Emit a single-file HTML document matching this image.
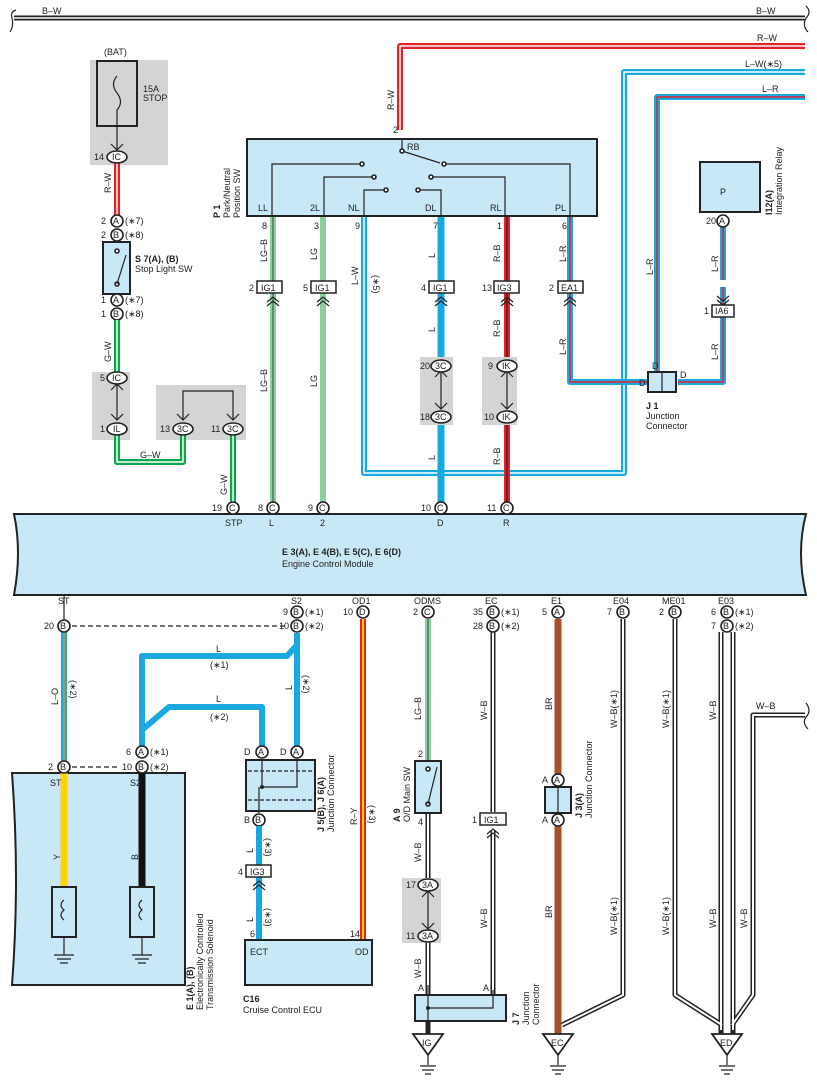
<!DOCTYPE html>
<html><head><meta charset="utf-8"><style>
body{margin:0;background:#fff}
svg{display:block;font-family:"Liberation Sans",sans-serif;font-size:9px}
.w{fill:none;stroke-linejoin:round}
.c{fill:#fff;stroke:#222;stroke-width:1.6}
.k{fill:none;stroke:#222;stroke-width:1.2}
.bx{fill:#c9e8f7;stroke:#222;stroke-width:2}
.g{fill:#d4d4d4}
text{fill:#222}
.b{font-weight:bold}
</style></head><body>
<svg width="817" height="1087" viewBox="0 0 817 1087" xmlns="http://www.w3.org/2000/svg">
<!-- top B-W -->
<path d="M14 18 H805" class="w" stroke="#222" stroke-width="5"/><path d="M14 18 H805" class="w" stroke="#fff" stroke-width="1.5"/>
<path d="M16 10 Q10 12 12 18 Q14 26 10 32" class="k" stroke-width="2"/><path d="M806 6 Q812 12 806 18 Q802 26 808 32" class="k" stroke-width="2"/>
<text x="42" y="14">B–W</text><text x="756" y="14">B–W</text>
<!-- R-W -->
<path d="M400 130 V46 H805" class="w" stroke="#e8202a" stroke-width="6"/><path d="M400 130 V46 H805" class="w" stroke="#fff" stroke-width="1.5"/>
<text x="757" y="41">R–W</text><text transform="translate(394 110) rotate(-90)">R–W</text>
<!-- L-W(*5) -->
<path d="M364 217 V473 H624 V72 H805" class="w" stroke="#19a8e0" stroke-width="6"/><path d="M364 217 V473 H624 V72 H805" class="w" stroke="#fff" stroke-width="1.5"/>
<text x="745" y="67">L–W(∗5)</text><text transform="translate(358 285) rotate(-90)">L–W</text><text transform="translate(373 275) rotate(90)">(∗5)</text>
<!-- L-R -->
<path d="M570 217 V382 H660 M657 382 V97 H805 M678 382 H723 V287" class="w" stroke="#19a8e0" stroke-width="6"/>
<path d="M570 217 V382 H660 M657 382 V97 H805 M678 382 H723 V287" class="w" stroke="#e8202a" stroke-width="1.5"/>
<path d="M723 218 V280" class="w" stroke="#19a8e0" stroke-width="6"/><path d="M723 218 V280" class="w" stroke="#e8202a" stroke-width="1.5"/>
<text x="762" y="92">L–R</text>
<text transform="translate(566 262) rotate(-90)">L–R</text><text transform="translate(566 355) rotate(-90)">L–R</text>
<text transform="translate(653 275) rotate(-90)">L–R</text><text transform="translate(718 272) rotate(-90)">L–R</text><text transform="translate(718 360) rotate(-90)">L–R</text>
<!-- J1 -->
<rect x="648" y="372" width="28" height="20" class="bx" stroke-width="1.5"/><line x1="662" y1="372" x2="662" y2="392" class="k"/>
<text x="652" y="369">D</text><text x="639" y="386">D</text><text x="680" y="378">D</text>
<text x="646" y="409" class="b">J 1</text><text x="646" y="419">Junction</text><text x="646" y="429">Connector</text>
<!-- I12 -->
<rect x="700" y="162" width="60" height="50" class="bx"/><text x="720" y="195">P</text>
<circle cx="723" cy="221" r="6" class="c"/><text x="719" y="224">A</text><text x="706" y="224">20</text>
<text transform="translate(772 215) rotate(-90)" class="b">I12(A)</text><text transform="translate(782 215) rotate(-90)">Integration Relay</text>
<rect x="712" y="305" width="22" height="12" fill="#fff" stroke="#222" stroke-width="1.5"/><text x="715" y="314">IA6</text><text x="704" y="314">1</text>
<path d="M717 296 L723 301 L729 296 M717 300 L723 305 L729 300" class="k" stroke-width="2"/>
<!-- BAT -->
<rect x="90" y="60" width="78" height="105" class="g"/>
<rect x="97" y="61" width="40" height="65" fill="#d4d4d4" stroke="#222" stroke-width="2"/>
<path d="M117 76 Q110 84 117 93 Q124 102 117 110 V150" class="k"/>
<text x="104" y="55">(BAT)</text><text x="143" y="92">15A</text><text x="143" y="101">STOP</text>
<path d="M111 144 L117 150 L123 144" class="k" stroke-width="3"/>
<path d="M117 163 V215" class="w" stroke="#e8202a" stroke-width="6"/><path d="M117 163 V215" class="w" stroke="#fff" stroke-width="1.5"/>
<ellipse cx="117" cy="157" rx="10" ry="6" class="c"/><text x="112" y="160">IC</text><text x="94" y="160">14</text>
<text transform="translate(111 193) rotate(-90)">R–W</text>
<circle cx="117" cy="221" r="6" class="c"/><text x="113" y="224">A</text><text x="101" y="224">2</text><text x="125" y="224">(∗7)</text>
<circle cx="117" cy="235" r="6" class="c"/><text x="113" y="238">B</text><text x="101" y="238">2</text><text x="125" y="238">(∗8)</text>
<rect x="103" y="242" width="27" height="52" class="bx"/><circle cx="117" cy="251" r="2" class="c" stroke-width="1"/><circle cx="117" cy="284" r="2" class="c" stroke-width="1"/><line x1="117" y1="284" x2="126" y2="255" class="k"/>
<text x="135" y="262" class="b">S 7(A), (B)</text><text x="135" y="272">Stop Light SW</text>
<circle cx="117" cy="300" r="6" class="c"/><text x="113" y="303">A</text><text x="101" y="303">1</text><text x="125" y="303">(∗7)</text>
<circle cx="117" cy="314" r="6" class="c"/><text x="113" y="317">B</text><text x="101" y="317">1</text><text x="125" y="317">(∗8)</text>
<text transform="translate(111 362) rotate(-90)">G–W</text>
<rect x="92" y="372" width="38" height="68" class="g"/><rect x="156" y="385" width="90" height="55" class="g"/>
<path d="M117 320 V372 M117 435 V462 H183 V435 M233 435 V508" class="w" stroke="#0aa84a" stroke-width="6"/>
<path d="M117 320 V372 M117 435 V462 H183 V435 M233 435 V508" class="w" stroke="#fff" stroke-width="1.5"/>
<text x="140" y="458">G–W</text><text transform="translate(227 495) rotate(-90)">G–W</text>
<line x1="117" y1="385" x2="117" y2="420" class="k"/><path d="M111 390 L117 384 L123 390 M111 414 L117 420 L123 414" class="k" stroke-width="3"/>
<path d="M183 420 V391 H233 V420" class="k"/><path d="M177 414 L183 420 L189 414 M227 414 L233 420 L239 414" class="k" stroke-width="3"/>
<ellipse cx="117" cy="378" rx="10" ry="6" class="c"/><text x="112" y="381">IC</text><text x="100" y="381">5</text>
<ellipse cx="117" cy="429" rx="10" ry="6" class="c"/><text x="113" y="432">IL</text><text x="100" y="432">1</text>
<ellipse cx="183" cy="429" rx="10" ry="6" class="c"/><text x="177" y="432">3C</text><text x="160" y="432">13</text>
<ellipse cx="233" cy="429" rx="10" ry="6" class="c"/><text x="227" y="432">3C</text><text x="211" y="432">11</text>
<!-- P1 -->
<rect x="247" y="139" width="350" height="77" class="bx"/>
<text transform="translate(220 218) rotate(-90)" class="b">P 1</text><text transform="translate(230 218) rotate(-90)">Park/Neutral</text><text transform="translate(240 218) rotate(-90)">Position SW</text>
<path d="M402 139 V151 M272 216 V164 H362 M324 216 V177 H374 M364 216 V190 H386 M441 216 V190 H419 M505 216 V177 H431 M570 216 V164 H444" class="k"/>
<path d="M402 151 L440 163" class="k" stroke-width="2"/>
<g class="c" stroke-width="1.2"><circle cx="402" cy="151" r="2"/><circle cx="362" cy="164" r="2"/><circle cx="444" cy="164" r="2"/><circle cx="374" cy="177" r="2"/><circle cx="431" cy="177" r="2"/><circle cx="386" cy="190" r="2"/><circle cx="418" cy="190" r="2"/></g>
<text x="407" y="150">RB</text><text x="258" y="211">LL</text><text x="310" y="211">2L</text><text x="348" y="211">NL</text><text x="425" y="211">DL</text><text x="490" y="211">RL</text><text x="555" y="211">PL</text>
<text x="393" y="133">2</text><text x="262" y="229">8</text><text x="314" y="229">3</text><text x="355" y="229">9</text><text x="433" y="229">7</text><text x="497" y="229">1</text><text x="562" y="229">6</text>
<!-- P1 wires -->
<path d="M273 217 V508" class="w" stroke="#8ccfa0" stroke-width="6"/><path d="M273 217 V508" class="w" stroke="#222" stroke-width="0.8"/>
<path d="M323 217 V508" class="w" stroke="#8ccfa0" stroke-width="6"/>
<path d="M441 217 V508" class="w" stroke="#19a8e0" stroke-width="7"/>
<path d="M507 217 V508" class="w" stroke="#e8202a" stroke-width="6"/><path d="M507 217 V508" class="w" stroke="#222" stroke-width="1.2"/>
<rect x="420" y="357" width="33" height="68" class="g"/><rect x="482" y="357" width="35" height="68" class="g"/>
<path d="M441 372 V408" class="k"/><path d="M507 372 V408" class="k"/>
<path d="M435 377 L441 371 L447 377 M435 403 L441 409 L447 403 M501 377 L507 371 L513 377 M501 403 L507 409 L513 403" class="k" stroke-width="3"/>
<ellipse cx="441" cy="366" rx="10" ry="6" class="c"/><text x="435" y="369">3C</text><text x="420" y="369">20</text>
<ellipse cx="441" cy="417" rx="10" ry="6" class="c"/><text x="435" y="420">3C</text><text x="420" y="420">18</text>
<ellipse cx="507" cy="366" rx="10" ry="6" class="c"/><text x="502" y="369">IK</text><text x="488" y="369">9</text>
<ellipse cx="507" cy="417" rx="10" ry="6" class="c"/><text x="502" y="420">IK</text><text x="484" y="420">10</text>
<g fill="#fff" stroke="#222" stroke-width="1.5"><rect x="257" y="281" width="25" height="12"/><rect x="311" y="281" width="25" height="12"/><rect x="429" y="281" width="25" height="12"/><rect x="494" y="281" width="25" height="12"/><rect x="558" y="281" width="25" height="12"/></g>
<text x="261" y="291">IG1</text><text x="315" y="291">IG1</text><text x="433" y="291">IG1</text><text x="497" y="291">IG3</text><text x="561" y="291">EA1</text>
<text x="249" y="291">2</text><text x="303" y="291">5</text><text x="421" y="291">4</text><text x="482" y="291">13</text><text x="549" y="291">2</text>
<path d="M267 302 L273 297 L279 302 M267 306 L273 301 L279 306 M317 302 L323 297 L329 302 M317 306 L323 301 L329 306 M435 302 L441 297 L447 302 M435 306 L441 301 L447 306 M501 302 L507 297 L513 302 M501 306 L507 301 L513 306 M564 302 L570 297 L576 302 M564 306 L570 301 L576 306" class="k" stroke-width="2"/>
<text transform="translate(267 262) rotate(-90)">LG–B</text><text transform="translate(267 392) rotate(-90)">LG–B</text>
<text transform="translate(317 260) rotate(-90)">LG</text><text transform="translate(317 387) rotate(-90)">LG</text>
<text transform="translate(435 258) rotate(-90)">L</text><text transform="translate(435 332) rotate(-90)">L</text><text transform="translate(435 460) rotate(-90)">L</text>
<text transform="translate(500 262) rotate(-90)">R–B</text><text transform="translate(500 337) rotate(-90)">R–B</text><text transform="translate(500 465) rotate(-90)">R–B</text>
<!-- ECM -->
<path d="M14 514 H806 Q796 552 806 595 H14 Q22 552 14 514 Z" class="bx"/>
<text x="282" y="555" class="b">E 3(A), E 4(B), E 5(C), E 6(D)</text><text x="282" y="567">Engine Control Module</text>
<g><circle cx="233" cy="508" r="6" class="c"/><text x="229" y="511">C</text><text x="212" y="511">19</text>
<circle cx="273" cy="508" r="6" class="c"/><text x="269" y="511">C</text><text x="258" y="511">8</text>
<circle cx="323" cy="508" r="6" class="c"/><text x="319" y="511">C</text><text x="308" y="511">9</text>
<circle cx="441" cy="508" r="6" class="c"/><text x="437" y="511">C</text><text x="421" y="511">10</text>
<circle cx="507" cy="508" r="6" class="c"/><text x="503" y="511">C</text><text x="487" y="511">11</text></g>
<text x="225" y="526">STP</text><text x="269" y="526">L</text><text x="320" y="526">2</text><text x="437" y="526">D</text><text x="503" y="526">R</text>
<text x="58" y="604">ST</text><text x="291" y="604">S2</text><text x="352" y="604">OD1</text><text x="414" y="604">ODMS</text><text x="485" y="604">EC</text><text x="551" y="604">E1</text><text x="613" y="604">E04</text><text x="662" y="604">ME01</text><text x="718" y="604">E03</text>
<!-- bottom wires -->
<line x1="64" y1="595" x2="64" y2="620" class="k"/>
<path d="M64 632 V761" class="w" stroke="#19a8e0" stroke-width="6"/><path d="M64 632 V761" class="w" stroke="#f08a1c" stroke-width="1.5"/>
<text transform="translate(58 705) rotate(-90)">L–O</text><text transform="translate(70 680) rotate(90)">(∗2)</text>
<path d="M297 633 V746 M297 645 L287 656 H142 V746 M142 730 L169 707 H262 V746" class="w" stroke="#19a8e0" stroke-width="6"/>
<text x="216" y="652">L</text><text x="210" y="668">(∗1)</text><text x="216" y="702">L</text><text x="210" y="720">(∗2)</text>
<text transform="translate(292 690) rotate(-90)">L</text><text transform="translate(303 675) rotate(90)">(∗2)</text>
<line x1="72" y1="626" x2="287" y2="626" class="k" stroke-dasharray="5 3"/><line x1="72" y1="767" x2="120" y2="767" class="k" stroke-dasharray="5 3"/>
<path d="M363 619 V940" class="w" stroke="#e8202a" stroke-width="6"/><path d="M363 619 V940" class="w" stroke="#ffd400" stroke-width="2"/>
<text transform="translate(357 825) rotate(-90)">R–Y</text><text transform="translate(369 805) rotate(90)">(∗3)</text>
<path d="M428 619 V761" class="w" stroke="#8ccfa0" stroke-width="6"/><path d="M428 619 V761" class="w" stroke="#222" stroke-width="0.8"/>
<path d="M428 813 V880 M428 940 V1035 M493 632 V812 M493 830 V995 M623 619 V995 L562 1025 M675 619 V995 L722 1025 M805 715 H753 V995 L732 1025 M721 632 V1035 M733 632 V1035" class="w" stroke="#222" stroke-width="5"/>
<path d="M428 813 V880 M428 940 V995 M493 632 V812 M493 830 V995 M623 619 V995 L562 1025 M675 619 V995 L722 1025 M805 715 H753 V995 L732 1025 M721 632 V1030 M733 632 V1030" class="w" stroke="#fff" stroke-width="2"/>
<path d="M558 619 V1035" class="w" stroke="#a8502e" stroke-width="7"/>
<path d="M806 703 Q812 711 806 717 Q802 723 808 729" class="k" stroke-width="2"/><text x="756" y="709">W–B</text>
<text transform="translate(421 720) rotate(-90)">LG–B</text><text transform="translate(421 862) rotate(-90)">W–B</text><text transform="translate(421 978) rotate(-90)">W–B</text>
<text transform="translate(487 720) rotate(-90)">W–B</text><text transform="translate(487 928) rotate(-90)">W–B</text>
<text transform="translate(552 710) rotate(-90)">BR</text><text transform="translate(552 918) rotate(-90)">BR</text>
<text transform="translate(617 728) rotate(-90)">W–B(∗1)</text><text transform="translate(617 935) rotate(-90)">W–B(∗1)</text>
<text transform="translate(669 728) rotate(-90)">W–B(∗1)</text><text transform="translate(669 935) rotate(-90)">W–B(∗1)</text>
<text transform="translate(716 720) rotate(-90)">W–B</text><text transform="translate(716 928) rotate(-90)">W–B</text><text transform="translate(747 928) rotate(-90)">W–B</text>
<!-- bottom connectors -->
<g>
<circle cx="64" cy="626" r="6" class="c"/><text x="60" y="629">B</text><text x="44" y="629">20</text>
<circle cx="297" cy="612" r="6" class="c"/><text x="293" y="615">B</text><text x="283" y="615">9</text><text x="305" y="615">(∗1)</text>
<circle cx="297" cy="626" r="6" class="c"/><text x="293" y="629">B</text><text x="279" y="629">10</text><text x="305" y="629">(∗2)</text>
<circle cx="363" cy="612" r="6" class="c"/><text x="359" y="615">D</text><text x="343" y="615">10</text>
<circle cx="428" cy="612" r="6" class="c"/><text x="424" y="615">C</text><text x="413" y="615">2</text>
<circle cx="493" cy="612" r="6" class="c"/><text x="489" y="615">B</text><text x="473" y="615">35</text><text x="501" y="615">(∗1)</text>
<circle cx="493" cy="626" r="6" class="c"/><text x="489" y="629">B</text><text x="473" y="629">28</text><text x="501" y="629">(∗2)</text>
<circle cx="558" cy="612" r="6" class="c"/><text x="554" y="615">A</text><text x="542" y="615">5</text>
<circle cx="623" cy="612" r="6" class="c"/><text x="619" y="615">B</text><text x="607" y="615">7</text>
<circle cx="675" cy="612" r="6" class="c"/><text x="671" y="615">B</text><text x="659" y="615">2</text>
<circle cx="727" cy="612" r="6" class="c"/><text x="723" y="615">B</text><text x="711" y="615">6</text><text x="735" y="615">(∗1)</text>
<circle cx="727" cy="626" r="6" class="c"/><text x="723" y="629">B</text><text x="711" y="629">7</text><text x="735" y="629">(∗2)</text>
</g>
<!-- E1 box -->
<path d="M12 773 H185 V985 H12 Q20 880 12 773 Z" class="bx"/>
<path d="M64 773 V887" stroke="#ffd400" stroke-width="7"/><path d="M142 773 V887" stroke="#111" stroke-width="7"/>
<text x="50" y="786">ST</text><text x="130" y="786">S2</text><text transform="translate(60 860) rotate(-90)">Y</text><text transform="translate(138 860) rotate(-90)">B</text>
<rect x="52" y="887" width="24" height="50" fill="none" stroke="#222" stroke-width="2"/><rect x="130" y="887" width="24" height="50" fill="none" stroke="#222" stroke-width="2"/>
<path d="M64 900 Q58 905 64 910 Q58 915 64 920 M142 900 Q136 905 142 910 Q136 915 142 920" class="k" stroke-width="1.5"/>
<path d="M64 937 V955 M54 955 H74 M57 959 H71 M60 963 H68 M142 937 V955 M132 955 H152 M135 959 H149 M138 963 H146" class="k"/>
<text transform="translate(193 1010) rotate(-90)" class="b">E 1(A), (B)</text><text transform="translate(203 1010) rotate(-90)">Electronically Controlled</text><text transform="translate(213 1010) rotate(-90)">Transmission Solenoid</text>
<circle cx="64" cy="767" r="6" class="c"/><text x="60" y="770">B</text><text x="48" y="770">2</text>
<circle cx="142" cy="752" r="6" class="c"/><text x="138" y="755">A</text><text x="126" y="755">6</text><text x="150" y="755">(∗1)</text>
<circle cx="142" cy="767" r="6" class="c"/><text x="138" y="770">B</text><text x="122" y="770">10</text><text x="150" y="770">(∗2)</text>
<!-- J5/J6 -->
<rect x="246" y="760" width="69" height="51" class="bx"/><path d="M248 771 H313 M248 800 H313" class="k" stroke-dasharray="4 2"/>
<path d="M262 760 V787 H297 V760 M259 787 V813" class="k"/><circle cx="262" cy="787" r="2" fill="#222"/>
<circle cx="262" cy="752" r="6" class="c"/><text x="258" y="755">A</text><text x="244" y="755">D</text>
<circle cx="297" cy="752" r="6" class="c"/><text x="293" y="755">A</text><text x="280" y="755">D</text>
<circle cx="259" cy="820" r="6" class="c"/><text x="255" y="823">B</text><text x="244" y="823">B</text>
<text transform="translate(324 832) rotate(-90)" class="b">J 5(B), J 6(A)</text><text transform="translate(334 832) rotate(-90)">Junction Connector</text>
<path d="M259 826 V940" class="w" stroke="#19a8e0" stroke-width="6"/>
<rect x="246" y="865" width="25" height="12" fill="#fff" stroke="#222" stroke-width="1.5"/><text x="250" y="875">IG3</text><text x="238" y="875">4</text>
<path d="M253 886 L259 881 L265 886 M253 890 L259 885 L265 890" class="k" stroke-width="2"/>
<text transform="translate(253 853) rotate(-90)">L</text><text transform="translate(265 838) rotate(90)">(∗3)</text>
<text transform="translate(253 922) rotate(-90)">L</text><text transform="translate(265 908) rotate(90)">(∗3)</text>
<!-- C16 -->
<rect x="245" y="940" width="127" height="45" class="bx"/><text x="250" y="955">ECT</text><text x="355" y="955">OD</text><text x="250" y="937">6</text><text x="350" y="937">14</text>
<text x="243" y="1002" class="b">C16</text><text x="243" y="1013">Cruise Control ECU</text>
<!-- A9 -->
<rect x="415" y="761" width="26" height="52" class="bx"/><circle cx="428" cy="769" r="2" class="c" stroke-width="1"/><circle cx="428" cy="804" r="2" class="c" stroke-width="1"/><line x1="428" y1="804" x2="437" y2="767" class="k"/>
<text x="418" y="757">2</text><text x="418" y="825">4</text>
<text transform="translate(400 822) rotate(-90)" class="b">A 9</text><text transform="translate(410 822) rotate(-90)">O/D Main SW</text>
<rect x="402" y="878" width="39" height="65" class="g"/>
<path d="M428 892 V928" class="k"/><path d="M422 897 L428 891 L434 897 M422 923 L428 929 L434 923" class="k" stroke-width="3"/>
<ellipse cx="428" cy="885" rx="10" ry="6" class="c"/><text x="422" y="888">3A</text><text x="406" y="888">17</text>
<ellipse cx="428" cy="936" rx="10" ry="6" class="c"/><text x="422" y="939">3A</text><text x="406" y="939">11</text>
<rect x="480" y="813" width="26" height="12" fill="#fff" stroke="#222" stroke-width="1.5"/><text x="484" y="823">IG1</text><text x="472" y="823">1</text>
<path d="M487 834 L493 829 L499 834 M487 838 L493 833 L499 838" class="k" stroke-width="2"/>
<!-- J7 -->
<rect x="415" y="995" width="91" height="26" class="bx"/><path d="M428 985 V1035 M493 990 V1008 H428" class="k"/><circle cx="428" cy="1008" r="2" fill="#222"/>
<text x="418" y="991">A</text><text x="483" y="991">A</text>
<text transform="translate(519 1025) rotate(-90)" class="b">J 7</text><text transform="translate(529 1025) rotate(-90)">Junction</text><text transform="translate(539 1025) rotate(-90)">Connector</text>
<!-- J3 -->
<rect x="545" y="787" width="26" height="26" class="bx"/><line x1="558" y1="787" x2="558" y2="813" class="k"/>
<circle cx="558" cy="780" r="6" class="c"/><text x="554" y="783">A</text><text x="542" y="783">A</text>
<circle cx="558" cy="820" r="6" class="c"/><text x="554" y="823">A</text><text x="542" y="823">A</text>
<text transform="translate(582 818) rotate(-90)" class="b">J 3(A)</text><text transform="translate(592 818) rotate(-90)">Junction Connector</text>
<!-- grounds -->
<g fill="#fff" stroke="#222" stroke-width="1.8">
<path d="M413 1034 H443 L428 1055 Z"/><path d="M543 1034 H573 L558 1055 Z"/><path d="M712 1034 H742 L727 1055 Z"/></g>
<text x="422" y="1046">IG</text><text x="551" y="1046">EC</text><text x="720" y="1046">ED</text>
<path d="M428 1055 V1065 M420 1066 H436 M422 1070 H434 M425 1074 H431 M558 1055 V1065 M550 1066 H566 M552 1070 H564 M555 1074 H561 M727 1055 V1065 M719 1066 H735 M721 1070 H733 M724 1074 H730" class="k"/>
</svg>
</body></html>
